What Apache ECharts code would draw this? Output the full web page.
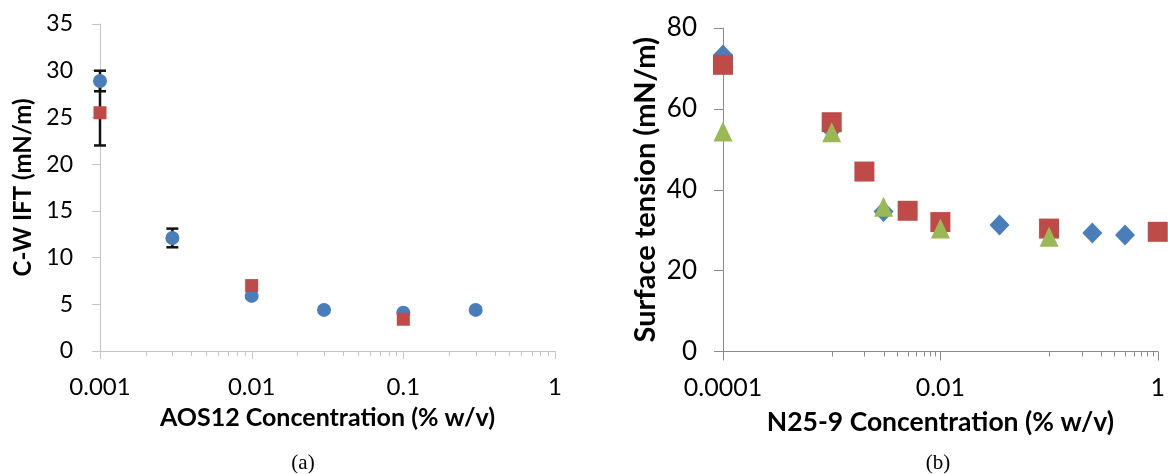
<!DOCTYPE html>
<html>
<head>
<meta charset="utf-8">
<script src="https://cdn.jsdelivr.net/npm/echarts@6/dist/echarts.min.js"></script>
<style>
  html, body { margin: 0; padding: 0; background: #fff; }
  #chart { width: 1168px; height: 474px; }
</style>
</head>
<body>
<div id="chart"></div>
<script>
// (a) AOS12 - C-W IFT
var aosBlueX = [0.001, 0.003, 0.01, 0.03, 0.1, 0.3];
var aosBlueY = [28.9, 12.1, 5.9, 4.4, 4.1, 4.4];
var aosBlueErr = [1.1, 1.0, 0, 0, 0, 0];
var aosRedX = [0.001, 0.01, 0.1];
var aosRedY = [25.5, 7.0, 3.4];
var aosRedErr = [3.5, 0, 0];
var aosXLabels = [0.001, 0.01, 0.1, 1];
var aosMajorTicks = [0.001, 0.01, 0.1, 1];
var aosMinorTicks = [0.002, 0.003, 0.004, 0.005, 0.006, 0.007, 0.008, 0.009,
                     0.02, 0.03, 0.04, 0.05, 0.06, 0.07, 0.08, 0.09,
                     0.2, 0.3, 0.4, 0.5, 0.6, 0.7, 0.8, 0.9];

// (b) N25-9 - surface tension
var n25BlueX = [0.0001, 0.001, 0.003, 0.035, 0.25, 0.5];
var n25BlueY = [73.3, 54.8, 34.6, 31.3, 29.3, 28.8];
var n25RedX = [0.0001, 0.001, 0.002, 0.005, 0.01, 0.1, 1];
var n25RedY = [70.9, 56.7, 44.5, 34.8, 32.0, 30.4, 29.6];
var n25GreenX = [0.0001, 0.001, 0.003, 0.01, 0.1];
var n25GreenY = [54.4, 54.2, 35.8, 30.4, 28.4];
var n25XLabels = [0.0001, 0.01, 1];
var n25MajorTicks = [0.0001, 0.01, 1];
var n25MinorTicks = [0.001, 0.002, 0.003, 0.004, 0.005, 0.006, 0.007, 0.008, 0.009,
                     0.1, 0.2, 0.3, 0.4, 0.5, 0.6, 0.7, 0.8, 0.9];

var BLUE = '#4A7EBB', RED = '#BE4B48', GREEN = '#98B954';
var FONT = 'Lato, "Open Sans", sans-serif';

function zip(xs, ys) {
  return xs.map(function (x, i) { return [x, ys[i]]; });
}

function labelFormatter(list) {
  return function (v) {
    for (var i = 0; i < list.length; i++) {
      if (Math.abs(Math.log10(v) - Math.log10(list[i])) < 1e-6) return String(list[i]);
    }
    return '';
  };
}

// tick marks below the x axis, drawn through the axis scale
function tickSeries(idx, ticks, len, color) {
  return {
    type: 'custom',
    xAxisIndex: idx, yAxisIndex: idx,
    silent: true, clip: false, z: 1,
    data: ticks.map(function (t) { return [t, 0]; }),
    renderItem: function (params, api) {
      var p = api.coord([api.value(0), 0]);
      var x = Math.round(p[0]) + 0.5;
      return {
        type: 'line',
        shape: { x1: x, y1: p[1], x2: x, y2: p[1] + len },
        style: { stroke: color, lineWidth: 1 }
      };
    }
  };
}

function errorSeries(xs, ys, errs) {
  var d = [];
  xs.forEach(function (x, i) { if (errs[i] > 0) d.push([x, ys[i], errs[i]]); });
  return {
    type: 'custom',
    xAxisIndex: 0, yAxisIndex: 0,
    silent: true, clip: false, z: 2,
    data: d,
    renderItem: function (params, api) {
      var x = api.value(0), y = api.value(1), e = api.value(2);
      var hi = api.coord([x, y + e]);
      var lo = api.coord([x, y - e]);
      var w = 6;
      var st = { stroke: '#111', lineWidth: 2.5 };
      return {
        type: 'group',
        children: [
          { type: 'line', shape: { x1: hi[0], y1: hi[1], x2: lo[0], y2: lo[1] }, style: st },
          { type: 'line', shape: { x1: hi[0] - w, y1: hi[1], x2: hi[0] + w, y2: hi[1] }, style: st },
          { type: 'line', shape: { x1: lo[0] - w, y1: lo[1], x2: lo[0] + w, y2: lo[1] }, style: st }
        ]
      };
    }
  };
}

var chart = echarts.init(document.getElementById('chart'), null, { renderer: 'canvas' });

var option = {
  backgroundColor: '#fff',
  animation: false,
  grid: [
    { left: 100, top: 24, width: 455, height: 327 },
    { left: 723, top: 28, width: 436, height: 323.5 }
  ],
  xAxis: [
    {
      type: 'log', logBase: 10, gridIndex: 0, min: 0.001, max: 1,
      name: 'AOS12 Concentration (% w/v)', nameLocation: 'middle', nameGap: 54,
      nameTextStyle: { fontFamily: FONT, fontWeight: 'bold', fontSize: 25, color: '#000' },
      axisLine: { show: true, lineStyle: { color: '#C4C4C4', width: 1 } },
      axisTick: { show: false },
      splitLine: { show: false },
      axisLabel: { formatter: labelFormatter(aosXLabels), fontFamily: FONT, fontSize: 24, color: '#000', margin: 24 }
    },
    {
      type: 'log', logBase: 10, gridIndex: 1, min: 0.0001, max: 1,
      name: 'N25-9 Concentration (% w/v)', nameLocation: 'middle', nameGap: 57,
      nameTextStyle: { fontFamily: FONT, fontWeight: 'bold', fontSize: 26.5, color: '#000' },
      axisLine: { show: true, lineStyle: { color: '#8C8C8C', width: 1 } },
      axisTick: { show: false },
      splitLine: { show: false },
      axisLabel: { formatter: labelFormatter(n25XLabels), fontFamily: FONT, fontSize: 25, color: '#000', margin: 24 }
    }
  ],
  yAxis: [
    {
      type: 'value', gridIndex: 0, min: 0, max: 35, interval: 5,
      name: 'C-W IFT (mN/m)', nameLocation: 'middle', nameGap: 65, nameRotate: 90,
      nameTextStyle: { fontFamily: FONT, fontWeight: 'bold', fontSize: 24, color: '#000' },
      axisLine: { show: true, lineStyle: { color: '#C4C4C4', width: 1 } },
      axisTick: { show: true, length: 8, lineStyle: { color: '#C4C4C4' } },
      splitLine: { show: false },
      axisLabel: { fontFamily: FONT, fontSize: 23, color: '#000', margin: 27 }
    },
    {
      type: 'value', gridIndex: 1, min: 0, max: 80, interval: 20,
      name: 'Surface tension (mN/m)', nameLocation: 'middle', nameGap: 63, nameRotate: 90,
      nameTextStyle: { fontFamily: FONT, fontWeight: 'bold', fontSize: 29, color: '#000' },
      axisLine: { show: true, lineStyle: { color: '#8C8C8C', width: 1 } },
      axisTick: { show: true, length: 9, lineStyle: { color: '#8C8C8C' } },
      splitLine: { show: false },
      axisLabel: { fontFamily: FONT, fontSize: 26, color: '#000', margin: 26 }
    }
  ],
  graphic: [
    { type: 'text', x: 303, y: 463, style: { text: '(a)', font: '21px "Liberation Serif", serif', fill: '#000', textAlign: 'center', textVerticalAlign: 'middle' } },
    { type: 'text', x: 938, y: 463, style: { text: '(b)', font: '21px "Liberation Serif", serif', fill: '#000', textAlign: 'center', textVerticalAlign: 'middle' } }
  ],
  series: [
    tickSeries(0, aosMajorTicks, 8, '#C4C4C4'),
    tickSeries(0, aosMinorTicks, 5, '#C4C4C4'),
    tickSeries(1, n25MajorTicks, 9, '#8C8C8C'),
    tickSeries(1, n25MinorTicks, 5, '#8C8C8C'),
    errorSeries(aosBlueX, aosBlueY, aosBlueErr),
    errorSeries(aosRedX, aosRedY, aosRedErr),
    {
      name: 'AOS12 blue', type: 'scatter', xAxisIndex: 0, yAxisIndex: 0, z: 3,
      symbol: 'circle', symbolSize: 14, itemStyle: { color: BLUE, opacity: 1 },
      data: zip(aosBlueX, aosBlueY)
    },
    {
      name: 'AOS12 red', type: 'scatter', xAxisIndex: 0, yAxisIndex: 0, z: 4,
      symbol: 'rect', symbolSize: 13, itemStyle: { color: RED, opacity: 1 },
      data: zip(aosRedX, aosRedY)
    },
    {
      name: 'N25-9 blue', type: 'scatter', xAxisIndex: 1, yAxisIndex: 1, z: 3,
      symbol: 'diamond', symbolSize: [20, 21], itemStyle: { color: BLUE, opacity: 1 },
      data: zip(n25BlueX, n25BlueY)
    },
    {
      name: 'N25-9 red', type: 'scatter', xAxisIndex: 1, yAxisIndex: 1, z: 4,
      symbol: 'rect', symbolSize: 20, itemStyle: { color: RED, opacity: 1 },
      data: zip(n25RedX, n25RedY)
    },
    {
      name: 'N25-9 green', type: 'scatter', xAxisIndex: 1, yAxisIndex: 1, z: 5,
      symbol: 'triangle', symbolSize: [19, 20], itemStyle: { color: GREEN, opacity: 1 },
      data: zip(n25GreenX, n25GreenY)
    }
  ]
};

chart.setOption(option);
</script>
</body>
</html>
